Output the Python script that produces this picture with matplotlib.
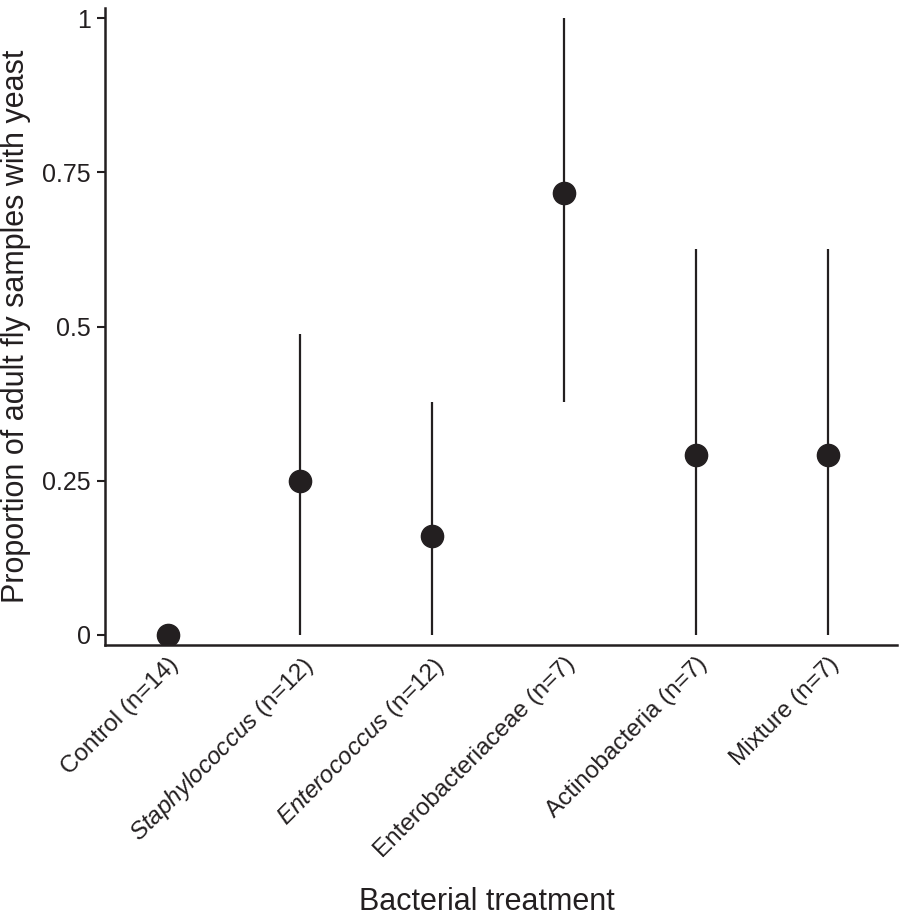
import matplotlib
matplotlib.use("Agg")
import matplotlib.pyplot as plt
from matplotlib.transforms import ScaledTranslation

plt.rcParams['font.family'] = ['Liberation Sans', 'DejaVu Sans']
plt.rcParams['mathtext.fontset'] = 'custom'
plt.rcParams['mathtext.rm'] = 'Liberation Sans'
plt.rcParams['mathtext.it'] = 'Liberation Sans:italic'

# Datos
tratamientos = ["Control (n=14)", r"$\mathit{Staphylococcus}$ (n=12)",
                r"$\mathit{Enterococcus}$ (n=12)", "Enterobacteriaceae (n=7)",
                "Actinobacteria (n=7)", "Mixture (n=7)"]
proporcion = [0.0, 0.25, 0.16, 0.716, 0.292, 0.292]
ic_bajo = [0.0, 0.0, 0.0, 0.378, 0.0, 0.0]
ic_alto = [0.0, 0.488, 0.378, 1.0, 0.626, 0.626]

color = '#231f20'

fig = plt.figure(figsize=(9.04, 9.16), dpi=100)
ax = fig.add_axes([0.116, 0.296, 0.876, 0.695])

x = list(range(len(tratamientos)))
ax.vlines(x, ic_bajo, ic_alto, color=color, linewidth=1.6)
ax.plot(x, proporcion, 'o', color=color, markersize=16)

ax.set_xlim(-0.477, 5.52)
ax.set_ylim(-0.016, 1.016)
ax.set_yticks([0, 0.25, 0.5, 0.75, 1])
ax.set_yticklabels(["0", "0.25", "0.5", "0.75", "1"])
ax.set_xticks(x)
ax.set_xticklabels(tratamientos, rotation=45, ha='right', va='top',
                   rotation_mode='anchor')
desplaza = ScaledTranslation(0.12, 0, fig.dpi_scale_trans)
for lab in ax.get_xticklabels():
    lab.set_transform(lab.get_transform() + desplaza)

for s in ['top', 'right']:
    ax.spines[s].set_visible(False)
for s in ['left', 'bottom']:
    ax.spines[s].set_linewidth(1.8)
    ax.spines[s].set_color(color)

ax.tick_params(axis='y', length=6, width=1.5, labelsize=18, colors=color, pad=4)
ax.tick_params(axis='x', length=0, labelsize=17.5, colors=color, pad=6)

ax.set_ylabel("Proportion of adult fly samples with yeast", fontsize=22, color=color, labelpad=8)
ax.set_xlabel("Bacterial treatment", fontsize=22, color=color, va='baseline')
ax.xaxis.set_label_coords(0.482, -0.417)

fig.savefig("out.png", dpi=100)
